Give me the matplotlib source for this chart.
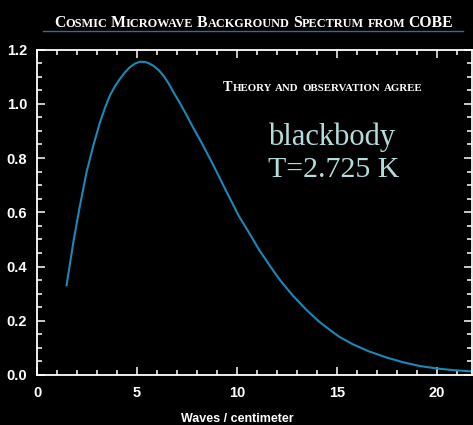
import matplotlib
matplotlib.use('Agg')
import matplotlib.pyplot as plt
from matplotlib.lines import Line2D
from matplotlib.ticker import MultipleLocator
from matplotlib.transforms import IdentityTransform

# COBE FIRAS spectrum, intensity vs waves per centimeter
wavenumber = [1.48, 1.82, 2.15, 2.48, 2.82, 3.15, 3.4, 3.65, 3.9, 4.15,
              4.4, 4.65, 4.9, 5.15, 5.4, 5.57, 5.82, 6.07, 6.32, 6.57,
              6.82, 7.15, 7.48, 7.8, 8.15, 8.48, 8.82, 9.15, 9.48, 9.8,
              10.07, 10.45, 10.8, 11.1, 11.45, 11.8, 12.15, 12.8, 13.5,
              14.15, 14.7, 15.15, 15.8, 16.6, 17.5, 18.3, 19.15, 20.0,
              20.8, 21.8]
intensity = [0.331, 0.491, 0.626, 0.748, 0.847, 0.932, 0.985, 1.031, 1.065, 1.092,
             1.116, 1.135, 1.148, 1.155, 1.154, 1.150, 1.140, 1.125, 1.104, 1.076,
             1.043, 1.002, 0.958, 0.913, 0.867, 0.821, 0.773, 0.724, 0.675, 0.629,
             0.589, 0.543, 0.500, 0.462, 0.424, 0.386, 0.350, 0.292, 0.238,
             0.194, 0.163, 0.139, 0.113, 0.087, 0.064, 0.047, 0.033, 0.024,
             0.018, 0.013]

xticks = [0, 5, 10, 15, 20]
yticks = [0.0, 0.2, 0.4, 0.6, 0.8, 1.0, 1.2]

title = 'Cosmic Microwave Background Spectrum from COBE'
subtitle = 'Theory and observation agree'
note = ['blackbody', 'T=2.725 K']

curve_color = '#1a88b8'
note_color = '#b4dcdc'


def small_caps(fig, x, y, text, big, small, gap, **kw):
    """Write text in small capitals, pixel coords, baseline at y."""
    r = fig.canvas.get_renderer()
    for word in text.split(' '):
        runs = []
        for ch in word:
            up = ch.isupper()
            if runs and runs[-1][1] == up:
                runs[-1][0] += ch
            else:
                runs.append([ch, up])
        for run, up in runs:
            t = fig.text(x, y, run.upper(), fontsize=big if up else small,
                         transform=IdentityTransform(), ha='left',
                         va='baseline', **kw)
            x += t.get_window_extent(r).width
        x += gap
    return x


fig = plt.figure(figsize=(4.73, 4.25), dpi=100, facecolor='black')
ax = fig.add_axes([37 / 473, 50 / 425, 435 / 473, 325.5 / 425])
ax.set_facecolor('black')

ax.plot(wavenumber, intensity, color=curve_color, lw=1.5,
        solid_joinstyle='round')

ax.set_xlim(0, 21.75)
ax.set_ylim(0, 1.2)
ax.set_xticks(xticks)
ax.set_yticks(yticks)
ax.set_yticklabels(['%.1f' % v for v in yticks])
ax.xaxis.set_minor_locator(MultipleLocator(1))
ax.yaxis.set_minor_locator(MultipleLocator(0.05))
ax.tick_params(which='both', direction='in', colors='white', width=1.1,
               top=True, right=True)
ax.tick_params(which='major', length=6)
ax.tick_params(which='minor', length=3.5)
ax.tick_params(axis='x', pad=8)
ax.tick_params(axis='y', pad=7)
for lab in ax.get_xticklabels() + ax.get_yticklabels():
    lab.set_fontfamily('Liberation Sans')
    lab.set_fontweight('bold')
    lab.set_fontsize(10.5)
    lab.set_color('white')
for sp in ax.spines.values():
    sp.set_color('white')
    sp.set_linewidth(1.3)

# headings
small_caps(fig, 54, 398, title, 11.3, 8.8, 3.6, color='white',
           family='Liberation Serif', weight='bold')
fig.add_artist(Line2D([43, 463], [394, 394], transform=IdentityTransform(),
                      color='#2f6f8f', lw=1))
small_caps(fig, 223, 334, subtitle, 10.2, 7.8, 3.5, color='white',
           family='Liberation Serif', weight='bold')

fig.text(268, 280, note[0], transform=IdentityTransform(), fontsize=22,
         family='Liberation Serif', color=note_color, va='baseline')
fig.text(268, 248, note[1], transform=IdentityTransform(), fontsize=21.5,
         family='Liberation Serif', color=note_color, va='baseline')

fig.text(237, 3, 'Waves / centimeter', transform=IdentityTransform(),
         fontsize=9, family='Liberation Sans', weight='bold', color='white',
         ha='center', va='baseline')

fig.savefig('out.png', dpi=100, facecolor='black')
